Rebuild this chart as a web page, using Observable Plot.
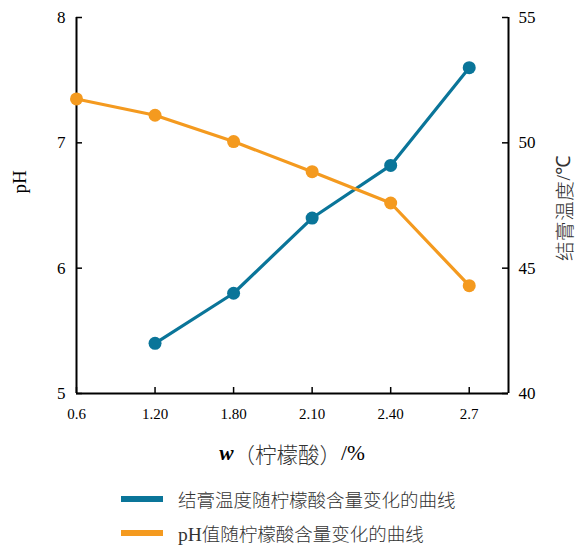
<!DOCTYPE html>
<html><head><meta charset="utf-8">
<script src="https://cdn.jsdelivr.net/npm/d3@7"></script>
<script src="https://cdn.jsdelivr.net/npm/@observablehq/plot@0.6"></script>
<style>
body{margin:0;background:#fff;}
#wrap{position:relative;width:577px;height:549px;background:#fff;}
#wrap svg{display:block;}
.leg{position:absolute;left:121px;height:30px;display:flex;align-items:center;font-family:"Noto Sans CJK SC","Noto Sans",sans-serif;font-weight:300;font-size:18.5px;color:#333;white-space:nowrap;}
.leg .sw{width:42px;height:6.5px;margin-right:15px;}
.leg .lat{font-family:"Liberation Serif",serif;font-weight:400;font-size:19.5px;}
</style></head><body>
<div id="wrap"></div>
<script>
// categories (x tick labels)
const xLabels = ["0.6","1.20","1.80","2.10","2.40","2.7"];
// pH series
const phCats = ["0.6","1.20","1.80","2.10","2.40","2.7"];
const phValues = [7.35, 7.22, 7.01, 6.77, 6.52, 5.86];
// setting temperature series (℃)
const tempCats = ["1.20","1.80","2.10","2.40","2.7"];
const tempValues = [42.0, 44.0, 47.0, 49.1, 53.0];
// axis ticks
const phTicks = [5, 6, 7, 8];
const tempTicks = [40, 45, 50, 55];
const legendLabels = ["结膏温度随柠檬酸含量变化的曲线", "pH值随柠檬酸含量变化的曲线"];

const BLUE = "#0a7599", ORANGE = "#f49a1f";
// map temperature onto the pH axis (40–55 ℃ ↔ 5–8)
const toY = t => 5 + (t - 40) / 5;
const fromY = v => Math.round(40 + (v - 5) * 5);

const phData = phCats.map((c, i) => ({i: xLabels.indexOf(c), v: phValues[i]}));
const tempData = tempCats.map((c, i) => ({i: xLabels.indexOf(c), v: toY(tempValues[i])}));
const xIdx = xLabels.map((d, i) => i);

const W = 577, H = 475, ML = 76, MR = 69, MT = 17, MB = 82;
const FW = W - ML - MR, FH = H - MT - MB, TL = 6;

const plot = Plot.plot({
  width: W, height: H,
  marginLeft: ML, marginRight: MR, marginTop: MT, marginBottom: MB,
  x: {domain: [0, 5.5]},
  y: {domain: [5, 8]},
  style: {fontFamily: "'Liberation Serif', 'Times New Roman', serif", fontSize: "17px", color: "#000", background: "#fff"},
  marks: [
    Plot.axisX(xIdx, {tickFormat: i => xLabels[i], tickSize: 0, tickPadding: 15, fontSize: 15, label: null}),
    Plot.axisY(phTicks, {anchor: "left", tickFormat: d => String(d), tickSize: 0, tickPadding: 11, label: null}),
    Plot.axisY(tempTicks.map(toY), {anchor: "right", tickFormat: fromY, tickSize: 0, tickPadding: 10, label: null}),
    // inward tick marks
    Plot.tickX(xIdx, {x: d => d, insetTop: FH - TL, stroke: "#000", strokeWidth: 1.5}),
    Plot.tickY(phTicks, {y: d => d, insetRight: FW - TL, stroke: "#000", strokeWidth: 1.5}),
    Plot.tickY(tempTicks.map(toY), {y: d => d, insetLeft: FW - TL, stroke: "#000", strokeWidth: 1.5}),
    Plot.ruleX([0, 5.5], {strokeWidth: 2}),
    Plot.ruleY([5], {strokeWidth: 2}),
    Plot.line(tempData, {x: "i", y: "v", stroke: BLUE, strokeWidth: 3.2}),
    Plot.dot(tempData, {x: "i", y: "v", r: 6.5, fill: BLUE}),
    Plot.line(phData, {x: "i", y: "v", stroke: ORANGE, strokeWidth: 3.2}),
    Plot.dot(phData, {x: "i", y: "v", r: 6.5, fill: ORANGE})
  ]
});
document.getElementById("wrap").appendChild(plot);

const svg = d3.select(plot);
// left axis title
svg.append("text")
  .attr("transform", "translate(19,182) rotate(-90)")
  .attr("text-anchor", "middle").attr("dominant-baseline", "central")
  .style("font-family", "'Liberation Serif', serif").style("font-size", "19px")
  .text("pH");
// right axis title
const rt = svg.append("text")
  .attr("transform", "translate(563,208) rotate(-90)")
  .attr("text-anchor", "middle").attr("dominant-baseline", "central")
  .style("font-size", "19.5px").style("fill", "#333").style("letter-spacing", "0.6px");
rt.append("tspan").style("font-family", "'Noto Sans CJK SC', sans-serif").style("font-weight", "300").text("结膏温度");
rt.append("tspan").style("font-family", "'Liberation Serif', serif").text("/℃");
// x axis title
const xt = svg.append("text")
  .attr("x", 292).attr("y", 453)
  .attr("text-anchor", "middle").attr("dominant-baseline", "central")
  .style("font-size", "21.5px");
xt.append("tspan").style("font-family", "'Liberation Serif', serif").style("font-style", "italic").style("font-weight", "bold").text("w");
xt.append("tspan").style("font-family", "'Noto Sans CJK SC', sans-serif").style("font-weight", "300").style("fill", "#333").text("（柠檬酸）");
xt.append("tspan").style("font-family", "'Liberation Serif', serif").text("/%");

// legend
const wrap = d3.select("#wrap");
[[legendLabels[0], BLUE, 484], [legendLabels[1], ORANGE, 518]].forEach(([t, c, top]) => {
  const item = wrap.append("div").attr("class", "leg").style("top", top + "px");
  item.append("div").attr("class", "sw").style("background", c);
  const span = item.append("span");
  const m = t.match(/^([A-Za-z]+)(.*)$/);
  if (m) { span.append("span").attr("class", "lat").text(m[1]); span.append("span").text(m[2]); }
  else span.text(t);
});
</script>
</body></html>
